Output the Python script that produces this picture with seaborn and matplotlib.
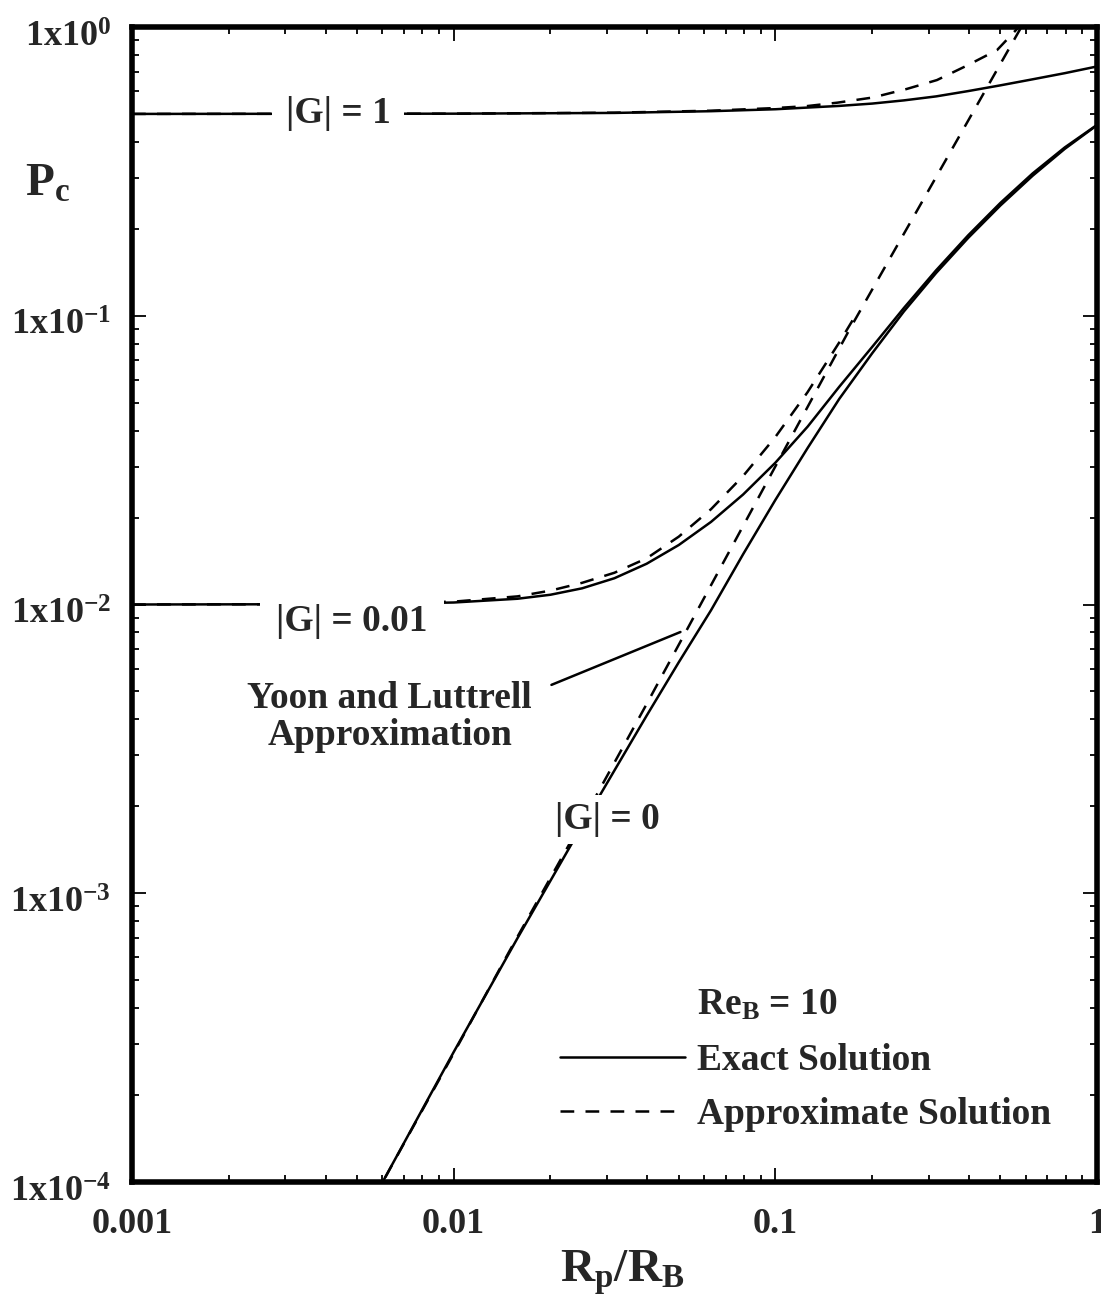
import matplotlib
matplotlib.use("Agg")
import matplotlib.pyplot as plt
import matplotlib.transforms as mtransforms
import seaborn as sns
from matplotlib.lines import Line2D
from matplotlib.ticker import FixedLocator, FixedFormatter, LogLocator, NullFormatter

# ---- data: collection probability P_c versus particle/bubble size ratio ----
# |G| = 1
g1_exact_x = [0.001, 0.01, 0.0316, 0.0631, 0.1, 0.126, 0.158, 0.2, 0.251, 0.316,
              0.398, 0.501, 0.631, 0.794, 1.0]
g1_exact_pc = [0.500, 0.501, 0.504, 0.511, 0.519, 0.526, 0.533, 0.543, 0.557, 0.575,
               0.600, 0.628, 0.659, 0.692, 0.730]
g1_approx_x = [0.001, 0.01, 0.0316, 0.0631, 0.1, 0.125, 0.156, 0.201, 0.256, 0.318,
               0.394, 0.489, 0.575, 0.603]
g1_approx_pc = [0.500, 0.501, 0.505, 0.513, 0.524, 0.532, 0.547, 0.570, 0.610, 0.655,
                0.735, 0.832, 1.007, 1.072]

# |G| = 0.01
g001_exact_x = [0.001, 0.00316, 0.00631, 0.01, 0.0158, 0.02, 0.0251, 0.0316, 0.0398,
                0.0501, 0.0631, 0.0794, 0.1, 0.126, 0.158, 0.2, 0.251, 0.316, 0.398,
                0.501, 0.631, 0.794, 1.0]
g001_exact_pc = [0.01000, 0.01002, 0.01007, 0.01016, 0.01047, 0.01081, 0.01138, 0.01233,
                 0.01384, 0.01607, 0.01932, 0.02404, 0.03097, 0.04130, 0.05675, 0.07798,
                 0.1064, 0.1436, 0.1901, 0.2460, 0.3112, 0.3828, 0.4581]
g001_approx_x = [0.001, 0.00316, 0.01, 0.0158, 0.02, 0.0251, 0.0316, 0.0398, 0.0501,
                 0.0631, 0.0794, 0.1, 0.1259, 0.1585, 0.1778]
g001_approx_pc = [0.01000, 0.01002, 0.01023, 0.01067, 0.01117, 0.01189, 0.01288, 0.01445,
                  0.01718, 0.02138, 0.02786, 0.03802, 0.05433, 0.08128, 0.1005]

# |G| = 0
g0_exact_x = [0.00562, 0.01, 0.0158, 0.0251, 0.0316, 0.0398, 0.0501, 0.0631, 0.0794,
              0.1, 0.126, 0.158, 0.2, 0.251, 0.316, 0.398, 0.501, 0.631, 0.794, 1.0]
g0_exact_pc = [8.71e-5, 2.818e-4, 6.998e-4, 1.718e-3, 2.661e-3, 4.121e-3, 6.310e-3,
               9.550e-3, 0.01493, 0.02301, 0.03483, 0.05152, 0.07413, 0.1035, 0.1406,
               0.1862, 0.2410, 0.3055, 0.3784, 0.4571]
# |G| = 0 approximate solution (Yoon and Luttrell)
yl_x = [0.00562, 0.01, 0.01496, 0.0251, 0.0398, 0.0627, 0.1, 0.1706, 0.316, 0.575, 0.603]
yl_pc = [8.71e-5, 2.79e-4, 6.35e-4, 1.778e-3, 4.52e-3, 0.01151, 0.03006, 0.0902, 0.302,
         0.977, 1.072]

x_ticks = [0.001, 0.01, 0.1, 1]
x_tick_labels = ["0.001", "0.01", "0.1", "1"]
y_ticks = [1e-4, 1e-3, 1e-2, 1e-1, 1]
y_tick_labels = ["1x10$^{-4}$", "1x10$^{-3}$", "1x10$^{-2}$", "1x10$^{-1}$", "1x10$^{0}$"]

# ---- style ----
sns.set_style("ticks")
plt.rcParams["font.family"] = ["Liberation Serif", "DejaVu Serif"]
plt.rcParams["font.weight"] = "bold"
plt.rcParams["mathtext.fontset"] = "custom"
plt.rcParams["mathtext.rm"] = "Liberation Serif:bold"
plt.rcParams["mathtext.it"] = "Liberation Serif:bold"
plt.rcParams["mathtext.bf"] = "Liberation Serif:bold"
plt.rcParams["mathtext.default"] = "rm"

INK = "black"
LW = 1.8
DASH = (0, (5.5, 4.5))
FS = 27
TICK_FS = 26

fig = plt.figure(figsize=(11.01, 13.12), dpi=100)
ax = fig.add_axes([132 / 1101, 1 - 1182 / 1312, 965 / 1101, 1155 / 1312])

exact = [(g1_exact_x, g1_exact_pc), (g001_exact_x, g001_exact_pc), (g0_exact_x, g0_exact_pc)]
approx = [(g1_approx_x, g1_approx_pc), (g001_approx_x, g001_approx_pc), (yl_x, yl_pc)]

for xs, ys in exact:
    sns.lineplot(x=xs, y=ys, ax=ax, color=INK, lw=LW, sort=False, estimator=None,
                 zorder=2)
for xs, ys in approx:
    sns.lineplot(x=xs, y=ys, ax=ax, color=INK, lw=LW, sort=False, estimator=None,
                 linestyle=DASH, zorder=2)

ax.set_xscale("log")
ax.set_yscale("log")
ax.set_xlim(1e-3, 1)
ax.set_ylim(1e-4, 1)

ax.xaxis.set_major_locator(FixedLocator(x_ticks))
ax.xaxis.set_major_formatter(FixedFormatter(x_tick_labels))
ax.yaxis.set_major_locator(FixedLocator(y_ticks))
ax.yaxis.set_major_formatter(FixedFormatter(y_tick_labels))
ax.xaxis.set_minor_locator(LogLocator(base=10, subs=range(2, 10), numticks=20))
ax.yaxis.set_minor_locator(LogLocator(base=10, subs=range(2, 10), numticks=20))
ax.xaxis.set_minor_formatter(NullFormatter())
ax.yaxis.set_minor_formatter(NullFormatter())

ax.tick_params(which="both", direction="in", top=True, right=True, color=INK, width=1.3)
ax.tick_params(which="major", length=10, labelsize=TICK_FS)
ax.tick_params(axis="x", which="major", pad=19)
ax.tick_params(axis="y", which="major", pad=15)
ax.tick_params(which="minor", length=5)
shift_down = mtransforms.ScaledTranslation(0, -7 / 100, fig.dpi_scale_trans)
for lab in ax.get_xticklabels() + ax.get_yticklabels():
    lab.set_fontweight("bold")
for lab in ax.get_yticklabels():
    lab.set_transform(lab.get_transform() + shift_down)

for sp in ax.spines.values():
    sp.set_linewidth(4)
    sp.set_color(INK)
    sp.set_visible(True)

ax.set_xlabel("R$_{p}$/R$_{B}$", fontsize=34, fontweight="bold")
ax.xaxis.set_label_coords(0.508, -0.058)
ax.set_ylabel("P$_{c}$", fontsize=34, fontweight="bold", rotation=0)
ax.yaxis.set_label_coords(-0.088, 0.845)

# curve labels (white box breaks the curve behind the text)
def white_box(pad):
    return dict(facecolor="white", edgecolor="none", pad=pad)

ax.text(0.2135, 0.9255, "|G| = 1", transform=ax.transAxes, ha="center", va="center",
        fontsize=FS, fontweight="bold", bbox=white_box(10), zorder=3)
ax.text(0.228, 0.4855, "|G| = 0.01", transform=ax.transAxes, ha="center", va="center",
        fontsize=FS, fontweight="bold", bbox=white_box(12), zorder=3)
ax.text(0.493, 0.314, "|G| = 0", transform=ax.transAxes, ha="center", va="center",
        fontsize=FS, fontweight="bold", bbox=white_box(5), zorder=3)
ax.text(0.267, 0.4026, "Yoon and Luttrell\nApproximation", transform=ax.transAxes,
        ha="center", va="center", fontsize=FS, fontweight="bold", linespacing=1.05,
        zorder=3)
ax.annotate("", xy=(0.571, 0.4771), xytext=(0.432, 0.4295),
            xycoords="axes fraction", textcoords="axes fraction",
            arrowprops=dict(arrowstyle="-", color=INK, lw=LW))

# legend
ax.text(0.5855, 0.1532, "Re$_{B}$ = 10", transform=ax.transAxes, ha="left", va="center",
        fontsize=FS, fontweight="bold")
handles = [Line2D([], [], color=INK, lw=LW),
           Line2D([], [], color=INK, lw=LW, linestyle=DASH)]
ax.legend(handles, ["Exact Solution", "Approximate Solution"], loc="upper left",
          bbox_to_anchor=(0.4435, 0.1202), frameon=False, borderpad=0, borderaxespad=0,
          handlelength=3.33, handletextpad=0.32, labelspacing=0.5,
          prop={"family": "Liberation Serif", "weight": "bold", "size": FS})

fig.savefig("out.png", dpi=100, facecolor="white")
